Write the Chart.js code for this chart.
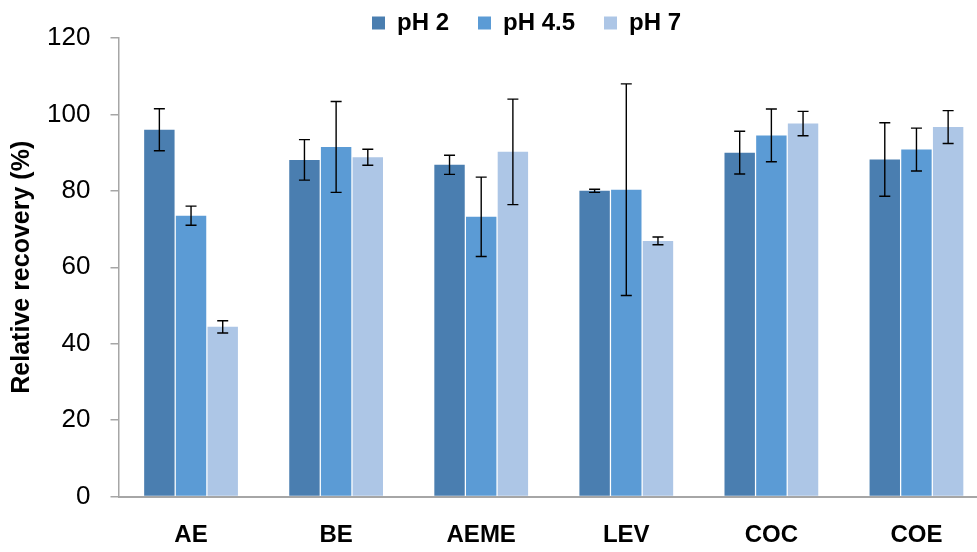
<!DOCTYPE html>
<html>
<head>
<meta charset="utf-8">
<script src="https://cdn.jsdelivr.net/npm/chart.js@4/dist/chart.umd.min.js"></script>
<style>
    html, body { margin: 0; padding: 0; background: #fff; overflow: hidden; }
    #wrap { position: relative; width: 989px; height: 552px; }
</style>
</head>
<body>
<div id="wrap"><canvas id="chartCanvas"></canvas></div>
<script>
// ============================================
// DATA
// ============================================
const categories = ['AE', 'BE', 'AEME', 'LEV', 'COC', 'COE'];
const seriesNames = ['pH 2', 'pH 4.5', 'pH 7'];

const ph2Values = [96.0, 88.1, 86.8, 80.0, 90.0, 88.2];
const ph45Values = [73.5, 91.5, 73.2, 80.3, 94.5, 90.8];
const ph7Values = [44.4, 88.8, 90.2, 66.9, 97.6, 96.7];

const ph2Errors = [5.5, 5.3, 2.5, 0.4, 5.6, 9.6];
const ph45Errors = [2.5, 11.9, 10.4, 27.7, 6.9, 5.6];
const ph7Errors = [1.6, 2.1, 13.8, 1.0, 3.2, 4.3];

const yTicks = [0, 20, 40, 60, 80, 100, 120];

const seriesColors = ['#4a7eb0', '#5b9bd5', '#adc6e6'];

// ============================================
// PLUGINS
// ============================================
const errorBarPlugin = {
    id: 'errorBars',
    afterDatasetsDraw: function(chart) {
        const ctx = chart.ctx;
        const yScale = chart.scales.y;
        ctx.save();
        ctx.strokeStyle = '#000';
        ctx.lineWidth = 1.4;
        chart.data.datasets.forEach(function(ds, i) {
            const meta = chart.getDatasetMeta(i);
            meta.data.forEach(function(bar, j) {
                const v = ds.data[j];
                const e = ds.errors[j];
                const yTop = yScale.getPixelForValue(v + e);
                const yBot = yScale.getPixelForValue(v - e);
                const x = bar.x;
                ctx.beginPath();
                ctx.moveTo(x, yTop);
                ctx.lineTo(x, yBot);
                ctx.moveTo(x - 5.5, yTop);
                ctx.lineTo(x + 5.5, yTop);
                ctx.moveTo(x - 5.5, yBot);
                ctx.lineTo(x + 5.5, yBot);
                ctx.stroke();
            });
        });
        ctx.restore();
    }
};

// legend sits higher and right of centre in the reference
const legendPlacePlugin = {
    id: 'legendPlace',
    beforeLayout: function(chart) {
        const legend = chart.legend;
        if (legend && !legend._patched) {
            const origFit = legend.fit;
            legend.fit = function() {
                origFit.call(this);
                this.height = 38;
            };
            legend._patched = true;
        }
    },
    afterLayout: function(chart) {
        const legend = chart.legend;
        legend.left += 32;
        legend.right += 32;
        legend.top -= 18;
    }
};

// ============================================
// CHART
// ============================================
function makeDataset(label, values, errors, color) {
    return {
        label: label,
        data: values,
        errors: errors,
        backgroundColor: color,
        borderWidth: 0,
        categoryPercentage: 0.655,
        barPercentage: 0.96
    };
}

const ctx = document.getElementById('chartCanvas').getContext('2d');
new Chart(ctx, {
    type: 'bar',
    data: {
        labels: categories,
        datasets: [
            makeDataset(seriesNames[0], ph2Values, ph2Errors, seriesColors[0]),
            makeDataset(seriesNames[1], ph45Values, ph45Errors, seriesColors[1]),
            makeDataset(seriesNames[2], ph7Values, ph7Errors, seriesColors[2])
        ]
    },
    options: {
        responsive: true,
        maintainAspectRatio: false,
        animation: false,
        devicePixelRatio: 1,
        layout: { padding: 0 },
        plugins: {
            legend: {
                display: true,
                position: 'top',
                labels: {
                    boxWidth: 13,
                    boxHeight: 13,
                    padding: 29,
                    color: '#000',
                    font: { family: 'Liberation Sans', size: 24, weight: 'bold' }
                }
            },
            tooltip: { enabled: false }
        },
        scales: {
            x: {
                grid: { display: false, drawTicks: false },
                border: { display: true, color: '#a6a6a6', width: 2 },
                ticks: {
                    color: '#000',
                    padding: 24,
                    font: { family: 'Liberation Sans', size: 24, weight: 'bold' }
                },
                afterFit: function(scale) { scale.height = 55.5; }
            },
            y: {
                min: 0,
                max: 120,
                afterBuildTicks: function(scale) {
                    scale.ticks = yTicks.map(function(v) { return { value: v }; });
                },
                grid: {
                    drawOnChartArea: false,
                    drawTicks: true,
                    tickLength: 8,
                    color: '#a6a6a6',
                    lineWidth: 1.5
                },
                border: { display: true, color: '#a6a6a6', width: 1.5 },
                ticks: {
                    color: '#000',
                    padding: 20,
                    font: { family: 'Liberation Sans', size: 26 }
                },
                title: {
                    display: true,
                    text: 'Relative recovery (%)',
                    color: '#000',
                    padding: { top: 7, bottom: 0 },
                    font: { family: 'Liberation Sans', size: 25, weight: 'bold' }
                },
                afterFit: function(scale) { scale.width = 118.5; }
            }
        }
    },
    plugins: [errorBarPlugin, legendPlacePlugin]
});
</script>
</body>
</html>
